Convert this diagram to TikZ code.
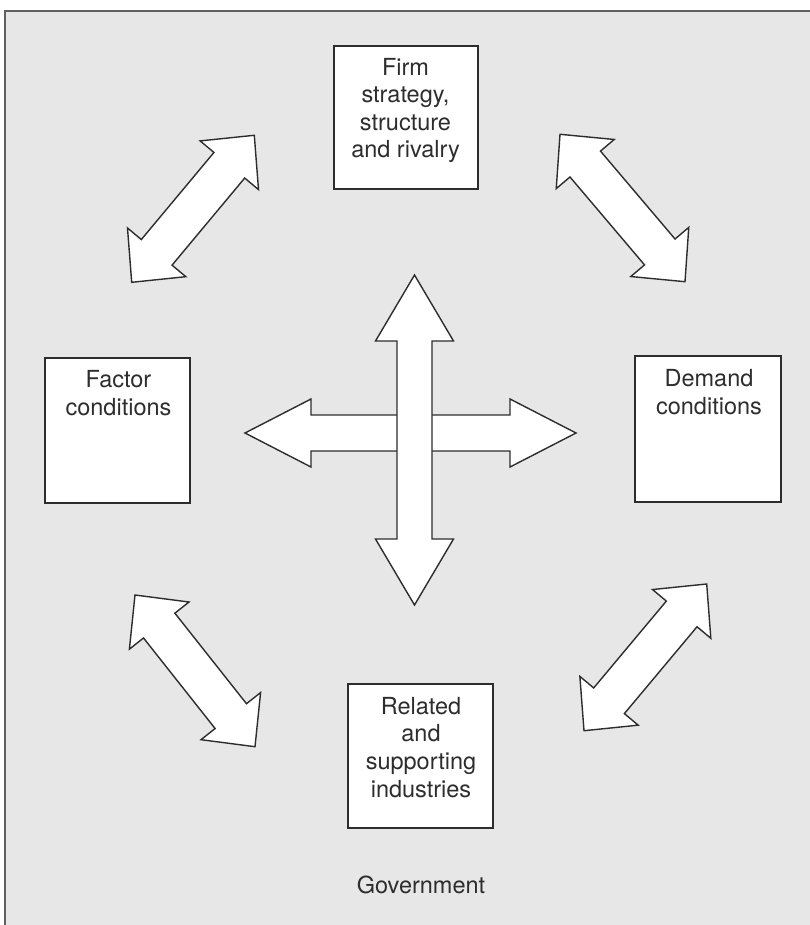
\documentclass[tikz,border=0pt]{standalone}
\usepackage{fontspec}
\setmainfont{TeX Gyre Heros}
\usetikzlibrary{calc}
\definecolor{bg}{RGB}{231,231,231}
\definecolor{ink}{RGB}{45,45,45}
\newcommand\dblarrow[5]{%
  \draw[blockarrow] (#1)
   -- ($(#1)!#3!(#2)!#4!90:(#2)$)
   -- ($(#1)!#3!(#2)!#5!90:(#2)$)
   -- ($(#2)!#3!(#1)!#5!-90:(#1)$)
   -- ($(#2)!#3!(#1)!#4!-90:(#1)$)
   -- (#2)
   -- ($(#2)!#3!(#1)!#4!90:(#1)$)
   -- ($(#2)!#3!(#1)!#5!90:(#1)$)
   -- ($(#1)!#3!(#2)!#5!-90:(#2)$)
   -- ($(#1)!#3!(#2)!#4!-90:(#2)$)
   -- cycle;}
\begin{document}
\begin{tikzpicture}[x=1pt,y=-1pt,
  box/.style={draw=ink, line width=1.8pt, fill=white, inner sep=0pt, outer sep=0pt, anchor=north west},
  lbl/.style={font=\fontsize{23.5}{27.6}\selectfont, text=ink, align=center, anchor=base, inner sep=0pt},
  blockarrow/.style={draw=ink, line width=1.4pt, fill=white, line join=miter}]
\useasboundingbox (0,0) rectangle (810,925);
\fill[white] (0,0) rectangle (810,925);
\fill[bg] (5,11) rectangle (810,925);
\draw[ink!75, line width=2pt] (5,925) -- (5,11) -- (810,11);

% boxes
\node[box, minimum width=144pt, minimum height=143pt] (firm) at (334,46) {};
\node[box, minimum width=145pt, minimum height=145pt] (factor) at (45,358) {};
\node[box, minimum width=146pt, minimum height=146pt] (demand) at (635,356) {};
\node[box, minimum width=145pt, minimum height=144pt] (related) at (348,684) {};

% labels (anchored at the baseline of their last line)
\node[lbl] (firmtxt) at (405.5,158) {Firm\\strategy,\\structure\\and rivalry};
\node[lbl] (factortxt) at (118.5,415) {Factor\\conditions};
\node[lbl] (demandtxt) at (709,414) {Demand\\conditions};
\node[lbl] (relatedtxt) at (421,797) {Related\\and\\supporting\\industries};
\node[lbl] (gov) at (421,893) {Government};

% arrow end points
\coordinate (tlA) at (254.3,135.3);
\coordinate (tlB) at (131.7,282.3);
\coordinate (trA) at (560,134.3);
\coordinate (trB) at (685,281.7);
\coordinate (blA) at (135,595);
\coordinate (blB) at (255,746.7);
\coordinate (brA) at (706.7,584);
\coordinate (brB) at (584,730.7);
\coordinate (hL) at (245,433);
\coordinate (hR) at (576,433);
\coordinate (vT) at (414.5,275);
\coordinate (vB) at (414.5,605);

\dblarrow{tlA}{tlB}{39pt}{38pt}{20pt}
\dblarrow{trA}{trB}{39pt}{38pt}{20pt}
\dblarrow{blA}{blB}{39pt}{38pt}{20pt}
\dblarrow{brA}{brB}{39pt}{38pt}{20pt}
\dblarrow{hL}{hR}{66pt}{34pt}{18pt}
\dblarrow{vT}{vB}{66pt}{39pt}{17.5pt}
\end{tikzpicture}
\end{document}
